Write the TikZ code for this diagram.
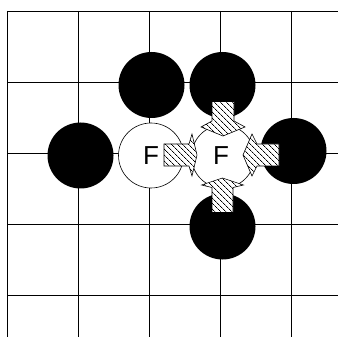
\documentclass[tikz,border=0pt]{standalone}
\usepackage{fontspec}
\setmainfont{Liberation Sans}
\usetikzlibrary{patterns.meta}
\begin{document}
\begin{tikzpicture}[x=1pt,y=-1pt,
  gridline/.style={line width=0.9pt,black},
  blackstone/.style={circle,fill=black,minimum size=66pt,inner sep=0pt},
  whitestone/.style={circle,draw=black,line width=0.6pt,fill=white,minimum size=65pt,inner sep=0pt,font=\fontsize{26}{26}\selectfont},
  hatcharrow/.style={draw=black,line width=0.6pt,preaction={fill=white},pattern={Lines[angle=-45,distance=4pt,line width=0.7pt]}}]
\useasboundingbox (0,0) rectangle (338,337);
\fill[white] (0,0) rectangle (338,337);
% grid
\foreach \k in {0,...,4}{
  \draw[gridline] (7.5+71*\k,11) -- (7.5+71*\k,337);
  \draw[gridline] (7.5,11+71*\k) -- (338,11+71*\k);
}
% black stones
\node[blackstone] (b1) at (151.5,85) {};
\node[blackstone] (b2) at (222.5,85) {};
\node[blackstone] (b3) at (80.5,155.5) {};
\node[blackstone] (b4) at (293.5,151) {};
\node[blackstone] (b5) at (222.5,226.5) {};
% white stones
\node[whitestone] (w1) at (151,155.5) {};
\node[whitestone,minimum size=63pt] (w2) at (223,156.5) {};
% arrows
\path[hatcharrow] (164,144) -- (189,144) -- (192,134) -- (197,155) -- (192,176) -- (189,166) -- (164,166) -- cycle;
\path[hatcharrow] (279,144) -- (257,144) -- (252,134) -- (243,155) -- (252,176) -- (257,166) -- (279,166) -- cycle;
\path[hatcharrow] (212,101.5) -- (212,121) -- (201,127) -- (223,136) -- (245,127) -- (234,121) -- (234,101.5) -- cycle;
\path[hatcharrow] (212,212.5) -- (212,187.5) -- (201.5,185) -- (222.5,178) -- (243.5,185) -- (233,187.5) -- (233,212.5) -- cycle;
% labels
\node[font=\fontsize{26}{26}\selectfont,inner sep=0pt] (f1) at (w1.center) {F};
\node[font=\fontsize{26}{26}\selectfont,inner sep=0pt] (f2) at (221,155.5) {F};
\end{tikzpicture}
\end{document}
